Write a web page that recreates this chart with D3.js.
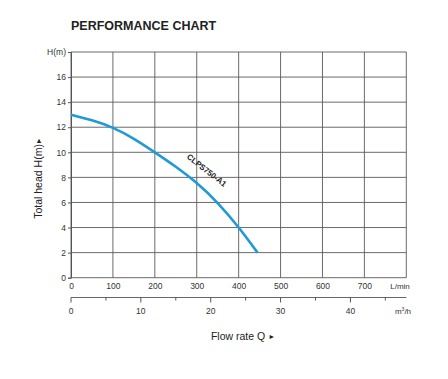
<!DOCTYPE html>
<html><head><meta charset="utf-8">
<script src="https://cdn.jsdelivr.net/npm/d3@7/dist/d3.min.js"></script>
<style>body{margin:0;background:#fff}svg{display:block;font-family:"Liberation Sans",Arial,sans-serif}</style>
</head><body>
<script>
const flowLmin = [0, 50, 100, 150, 200, 250, 300, 350, 400, 445];
const headM    = [13.0, 12.55, 11.95, 11.08, 10.0, 8.85, 7.55, 5.95, 4.0, 2.0];
const xTicksLmin = [0, 100, 200, 300, 400, 500, 600, 700];
const xTicksM3h = [0, 10, 20, 30, 40];
const xMinorM3h = [5, 15, 25, 35, 45];
const yTicks = [0, 2, 4, 6, 8, 10, 12, 14, 16];
const seriesName = "CLPS750-A1";

const W = 448, H = 379;
const svg = d3.select("body").append("svg").attr("width", W).attr("height", H);
const x = d3.scaleLinear().domain([0, 800]).range([71, 406.3]);
const y = d3.scaleLinear().domain([0, 18]).range([277.7, 52]);
const xm = d3.scaleLinear().domain([0, 800 * 60 / 1000]).range([71, 406.3]);

svg.append("text").attr("x", 71).attr("y", 30).attr("font-weight", "bold")
  .attr("font-size", 12.5).attr("fill", "#222").text("PERFORMANCE CHART");

const grid = svg.append("g").attr("stroke", "#5a5a5a").attr("stroke-width", 0.9);
grid.selectAll("line.v").data(d3.range(0, 801, 100)).join("line")
  .attr("x1", d => x(d)).attr("x2", d => x(d)).attr("y1", y(18)).attr("y2", y(0));
grid.selectAll("line.h").data(d3.range(0, 19, 2)).join("line")
  .attr("x1", x(0)).attr("x2", x(800)).attr("y1", d => y(d)).attr("y2", d => y(d));

// Y axis
const ya = svg.append("g").attr("transform", `translate(${x(0)},0)`)
  .call(d3.axisLeft(y).tickValues(yTicks).tickSize(3).tickPadding(2));
ya.select(".domain").attr("stroke", "#555");
ya.selectAll(".tick line").attr("stroke", "#555");
ya.selectAll("text").attr("font-size", 8.5).attr("fill", "#333").attr("font-family", "Liberation Sans, Arial");
svg.append("text").attr("x", 66).attr("y", y(18) + 3).attr("text-anchor", "end")
  .attr("font-size", 8.5).attr("fill", "#333").text("H(m)");

// X axis L/min
const xa = svg.append("g").attr("transform", `translate(0,${y(0)})`)
  .call(d3.axisBottom(x).tickValues(xTicksLmin).tickSize(0).tickPadding(5));
xa.select(".domain").remove();
xa.selectAll("text").attr("font-size", 8.5).attr("fill", "#333").attr("font-family", "Liberation Sans, Arial");
svg.append("text").attr("x", 400).attr("y", 289).attr("text-anchor", "middle")
  .attr("font-size", 8).attr("fill", "#333").text("L/min");

// X axis m3/h
const ma = svg.append("g").attr("transform", "translate(0,297.5)");
ma.append("line").attr("x1", xm(0)).attr("x2", xm(48)).attr("stroke", "#555").attr("stroke-width", 0.9);
ma.selectAll("line.maj").data(xTicksM3h).join("line").attr("class", "maj")
  .attr("x1", d => xm(d)).attr("x2", d => xm(d)).attr("y1", 0).attr("y2", 5).attr("stroke", "#555");
ma.selectAll("line.min").data(xMinorM3h).join("line").attr("class", "min")
  .attr("x1", d => xm(d)).attr("x2", d => xm(d)).attr("y1", 0).attr("y2", 3).attr("stroke", "#555");
ma.selectAll("text").data(xTicksM3h).join("text")
  .attr("x", d => xm(d)).attr("y", 16).attr("text-anchor", "middle")
  .attr("font-size", 8.5).attr("fill", "#333").text(d => d);
const mu = svg.append("text").attr("x", 403).attr("y", 313.5).attr("text-anchor", "middle")
  .attr("font-size", 8).attr("fill", "#333");
mu.append("tspan").text("m");
mu.append("tspan").attr("font-size", 5).attr("dy", -3).text("3");
mu.append("tspan").attr("dy", 3).text("/h");

const fr = svg.append("text").attr("x", 243).attr("y", 339.5).attr("text-anchor", "middle")
  .attr("font-size", 10.5).attr("fill", "#222");
fr.append("tspan").text("Flow rate   Q ");
fr.append("tspan").attr("font-size", 7).attr("dy", -1).text("►");

const yl = svg.append("text").attr("transform", "translate(41.5,178) rotate(-90)").attr("text-anchor", "middle")
  .attr("font-size", 10.5).attr("fill", "#222");
yl.append("tspan").text("Total  head H(m)");
yl.append("tspan").attr("font-size", 7).attr("dy", -1).text("►");

// Curve
const pts = flowLmin.map((f, i) => [f, headM[i]]);
svg.append("path").datum(pts)
  .attr("d", d3.line().x(d => x(d[0])).y(d => y(d[1])).curve(d3.curveNatural))
  .attr("fill", "none").attr("stroke", "#1f9ad8").attr("stroke-width", 2.6);

svg.append("text").attr("transform", "translate(205,172.5) rotate(38)").attr("text-anchor", "middle")
  .attr("font-size", 8).attr("font-weight", "bold").attr("fill", "#222").text(seriesName);
</script>
</body></html>
